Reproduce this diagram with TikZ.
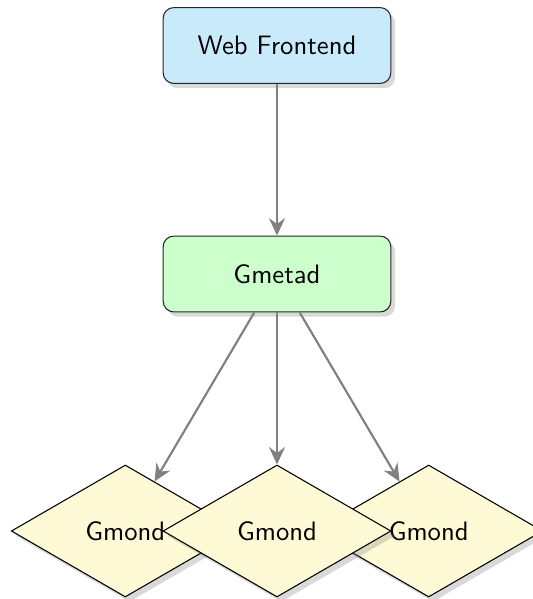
\documentclass[tikz,border=0pt]{standalone}
\usetikzlibrary{shapes.geometric,shadows,arrows.meta}
\definecolor{frontfill}{RGB}{200,234,250}
\definecolor{metafill}{RGB}{204,255,204}
\definecolor{mondfill}{RGB}{255,250,214}
\tikzset{
  boxnode/.style={draw=black!85, rounded corners=4pt, minimum width=3cm,
    minimum height=1cm, font=\sffamily,
    drop shadow={shadow xshift=1.6pt, shadow yshift=-1.8pt, opacity=0.3}},
  mondnode/.style={diamond, draw=black, fill=mondfill, minimum width=85.5pt,
    minimum height=49.5pt, inner sep=0pt, font=\sffamily,
    drop shadow={shadow xshift=1.6pt, shadow yshift=-1.8pt, opacity=0.3}},
  link/.style={draw=gray, line width=0.8pt,
    -{Stealth[length=6.5pt, width=6pt, inset=2.2pt]}}
}
\begin{document}
\begin{tikzpicture}[x=0.375pt, y=-0.375pt]
  \useasboundingbox (0,0) rectangle (533,599);
  \node[boxnode, fill=frontfill] (web) at (277,45.5) {Web Frontend};
  \node[boxnode, fill=metafill] (gmetad) at (277,274) {Gmetad};
  \node[mondnode] (m1) at (125.3,531) {Gmond};
  \node[mondnode] (m3) at (428.7,531) {Gmond};
  \node[mondnode] (m2) at (277,531) {Gmond};
  \draw[link] (web) -- (gmetad);
  \draw[link] (gmetad) -- (m1);
  \draw[link] (gmetad) -- (m2);
  \draw[link] (gmetad) -- (m3);
\end{tikzpicture}
\end{document}
